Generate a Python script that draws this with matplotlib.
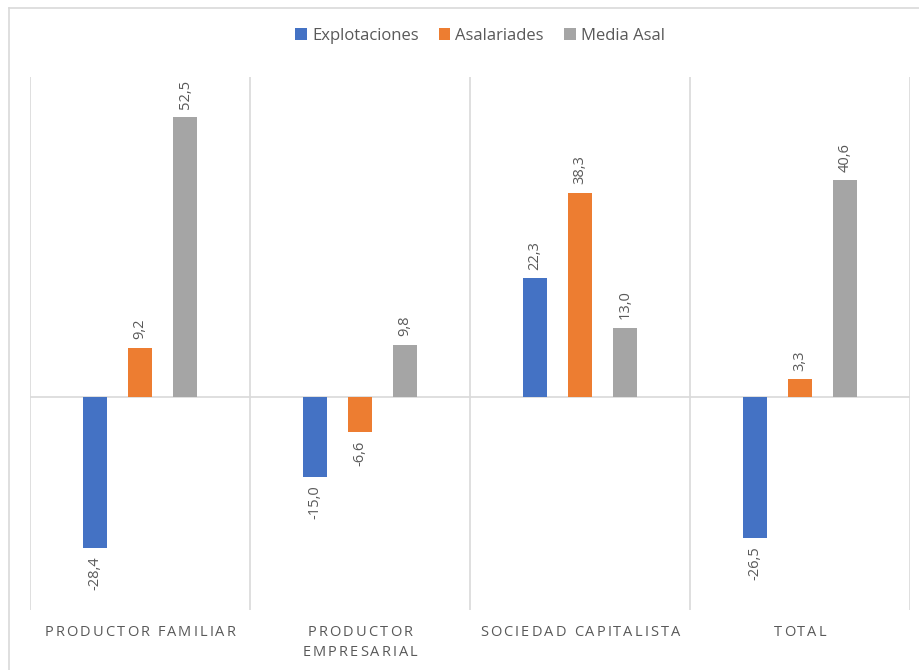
import matplotlib
matplotlib.use('Agg')
import matplotlib.pyplot as plt
from matplotlib.patches import Patch
from matplotlib.lines import Line2D
from matplotlib.font_manager import FontProperties

categories = ['PRODUCTOR FAMILIAR', 'PRODUCTOR\nEMPRESARIAL', 'SOCIEDAD CAPITALISTA', 'TOTAL']
series = ['Explotaciones', 'Asalariades', 'Media Asal']
explotaciones = [-28.4, -15.0, 22.3, -26.5]
asalariades = [9.2, -6.6, 38.3, 3.3]
media_asal = [52.5, 9.8, 13.0, 40.6]
colors = ['#4472C4', '#ED7D31', '#A5A5A5']

plt.rcParams['font.family'] = ['Open Sans', 'DejaVu Sans']
txt_color = '#595959'
grid_color = '#D9D9D9'

fig = plt.figure(figsize=(9.2, 6.7), dpi=100)
ax = fig.add_axes([30 / 920, 1 - 610 / 670, 880 / 920, 533 / 670])

offsets = [-0.205, 0.0, 0.205]
width = 0.11
for k, vals in enumerate([explotaciones, asalariades, media_asal]):
    xs = [i + offsets[k] for i in range(len(categories))]
    ax.bar(xs, vals, width=width, color=colors[k], zorder=3)
    for x, v in zip(xs, vals):
        lab = ('%.1f' % v).replace('.', ',')
        if v >= 0:
            ax.annotate(lab, (x, v), xytext=(0, 6), textcoords='offset points',
                        rotation=90, ha='center', va='bottom', fontsize=10.5, color=txt_color)
        else:
            ax.annotate(lab, (x, v), xytext=(0, -6), textcoords='offset points',
                        rotation=90, ha='center', va='top', fontsize=10.5, color=txt_color)

ax.set_xlim(-0.5, 3.5)
ax.set_ylim(-40, 60)
ax.axhline(0, color=grid_color, lw=1.2, zorder=2)
for b in [-0.5, 0.5, 1.5, 2.5, 3.5]:
    ax.axvline(b, color=grid_color, lw=1.2, zorder=1)
for s in ax.spines.values():
    s.set_visible(False)
ax.set_xticks([])
ax.set_yticks([])

# letter-spaced category labels
fp = FontProperties(family=['Open Sans', 'DejaVu Sans'], size=10.5)
renderer = fig.canvas.get_renderer()
spacing = 2.1
for i, cat in enumerate(categories):
    for j, line in enumerate(cat.split('\n')):
        widths = [renderer.get_text_width_height_descent(c, fp, ismath=False)[0] for c in line]
        total = sum(widths) + spacing * (len(line) - 1)
        cx = ax.transData.transform((i, 0))[0]
        x0 = cx - total / 2
        ypx = 670 - (632 + j * 21)
        for c, w in zip(line, widths):
            fig.text(x0 / 920, ypx / 670, c, fontproperties=fp, color=txt_color,
                     ha='left', va='center')
            x0 += w + spacing

handles = [Patch(facecolor=c, edgecolor='none') for c in colors]
fig.legend(handles, series, loc='center', bbox_to_anchor=(480 / 920, 1 - 36 / 670), ncol=3,
           frameon=False, fontsize=12, labelcolor=txt_color, handlelength=0.7,
           handleheight=0.7, handletextpad=0.3, columnspacing=1.2)

# chart frame
fig.add_artist(Line2D([9 / 920, 1], [1 - 8 / 670, 1 - 8 / 670], color=grid_color, lw=1.2))
fig.add_artist(Line2D([9 / 920, 9 / 920], [0, 1 - 8 / 670], color=grid_color, lw=1.2))

plt.savefig('out.png', dpi=100)
